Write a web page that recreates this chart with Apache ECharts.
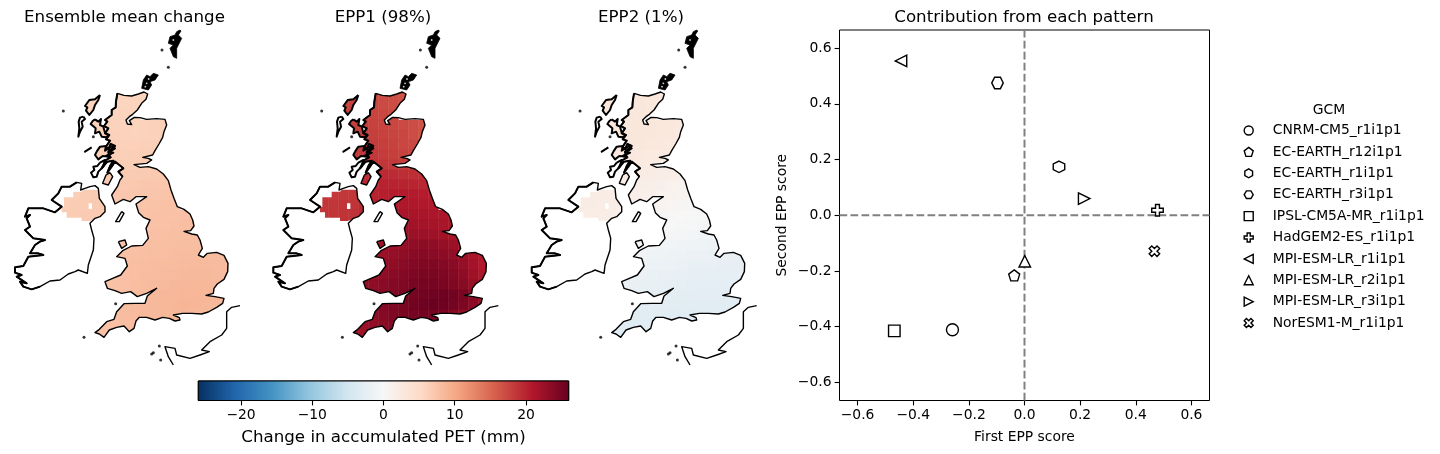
<!DOCTYPE html>
<html><head><meta charset="utf-8">
<style>html,body{margin:0;padding:0;background:#fff}#c{width:1440px;height:454px}</style>
<script src="https://cdn.jsdelivr.net/npm/echarts@6/dist/echarts.min.js"></script>
</head><body><div id="c"></div>
<script>
// ---- scatter data
const models = ["CNRM-CM5_r1i1p1","EC-EARTH_r12i1p1","EC-EARTH_r1i1p1","EC-EARTH_r3i1p1","IPSL-CM5A-MR_r1i1p1","HadGEM2-ES_r1i1p1","MPI-ESM-LR_r1i1p1","MPI-ESM-LR_r2i1p1","MPI-ESM-LR_r3i1p1","NorESM1-M_r1i1p1"];
const scoreX = [-0.259,-0.037,0.124,-0.097,-0.468,0.478,-0.444,0.001,0.2145,0.467];
const scoreY = [-0.411,-0.216,0.174,0.475,-0.415,0.018,0.554,-0.165,0.06,-0.129];
const scoreTicks = [-0.6,-0.4,-0.2,0,0.2,0.4,0.6];
const cbarTicks = [-20,-10,0,10,20];
const titles = ["Ensemble mean change","EPP1 (98%)","EPP2 (1%)"];
const rdBu = ["#053061","#2166ac","#4393c3","#92c5de","#d1e5f0","#f7f7f7","#fddbc7","#f4a582","#d6604d","#b2182b","#67001f"];

// ---- gridded fields: values per map row, mm
const rowStart = [2,2,2,2,3,3,3,3,4,4,0,0,0,2,8,5,5,5,5,4,5,5,5,4,3];
const fieldMean = [
[6.0,6.0,5.9,5.8,5.8,5.9,6.0],[6.0,6.0,6.0,5.9,5.8,5.9,6.1],[6.1,6.1,6.0,6.0,5.9,6.0],
[6.2,6.2,6.2,6.1,6.0,6.0,6.1,6.2,6.3],[6.3,6.3,6.2,6.1,6.0,6.1,6.2,6.3],[6.4,6.4,6.3,6.2,6.2,6.3,6.3,6.4],
[6.5,6.5,6.4,6.3,6.4,6.4,6.5],[6.6,6.6,6.5,6.5,6.5,6.6,6.7],[6.7,6.7,6.7,6.7,6.8,6.9,7.0],[6.8,6.8,6.9,7.0,7.1,7.1,7.2],
[6.5,6.5,6.6,6.7,6.9,7.0,7.1,7.2,7.3,7.3,7.4,7.5],[6.5,6.6,6.6,6.7,6.9,7.1,7.2,7.3,7.4,7.5,7.6,7.6],
[6.6,6.6,6.7,6.8,6.9,7.1,7.3,7.4,7.5,7.6,7.7,7.7,7.8,7.8],[6.8,6.9,7.1,7.3,7.4,7.5,7.6,7.7,7.7,7.8,7.9,7.9],
[7.7,7.8,7.8,7.9,7.9,8.0,8.0],[7.6,7.7,7.7,7.8,7.9,7.9,8.0,8.0,8.0,8.0],
[7.6,7.7,7.8,7.9,7.9,8.0,8.1,8.2,8.2,8.2,8.2,8.2],[7.7,7.8,7.9,8.0,8.1,8.2,8.2,8.3,8.4,8.4,8.3,8.3],
[7.7,7.8,7.9,8.1,8.2,8.3,8.4,8.5,8.5,8.5,8.4,8.3],[7.5,7.7,7.8,8.0,8.2,8.3,8.4,8.6,8.7,8.7,8.6,8.5,8.4],
[7.9,8.0,8.2,8.3,8.5,8.6,8.7,8.8,8.8,8.7,8.6,8.5],[7.9,8.0,8.2,8.4,8.5,8.6,8.8,8.9,8.8,8.7,8.5,8.4],
[7.9,8.1,8.3,8.4,8.5,8.6,8.7,8.7,8.6,8.5],[7.6,7.8,8.0,8.2],[7.5,7.6,7.8,8.0]];
const fieldEpp1 = [
[17.5,17.5,17.5,17.2,17.0,16.8,16.6],[17.8,17.8,17.6,17.4,17.2,17.0,16.8],[18,18,17.8,17.6,17.4,17.2],
[18,18,18,17.8,17.6,17.4,17.2,17,16.6],[18,18,18,17.8,17.6,17.4,17,16.6],[18.2,18.2,18.2,18,17.8,17.5,17.3,17],
[18.4,18.4,18.4,18.2,18,17.8,17.6],[18.8,18.8,18.8,18.6,18.4,18.2,18],[19.2,19.4,19.5,19.4,19.3,19.2,19.2],[19.6,19.8,20,20,20,19.9,19.8],
[18.4,18.4,18.5,18.6,19.5,20,20.3,20.5,20.6,20.6,20.5,20.4],[18.5,18.6,18.7,18.8,19.5,20.3,20.6,20.8,21,21,20.9,20.8],
[18.6,18.7,18.8,18.9,19.5,20.5,21,21.2,21.4,21.5,21.4,21.3,21.2,21],[19,19,20,21,21.3,21.6,21.8,21.9,21.8,21.6,21.4,21.2],
[22,22.4,22.4,22.2,21.9,21.6,21.3],[21.6,22,22.4,22.8,23.2,23.4,23.2,22.8,22.4,21.8],
[22,22.4,22.8,23.2,23.6,23.8,23.6,23.4,23,22.4,21.4,20.8],[22.4,22.8,23.2,23.6,24,24.2,24.2,24,23.6,22.8,21.8,20.8],
[22.8,23.2,23.6,24,24.4,24.6,24.6,24.4,24,23.3,22.2,21.2],[23,23.2,23.6,24,24.3,24.7,24.9,24.9,24.7,24.3,23.7,22.8,21.8],
[23.7,23.9,24.3,24.7,25,25.2,25.4,25.5,25.2,24.7,23.7,22.7],[23.7,24,24.4,24.8,25.2,25.5,25.7,25.5,25.1,24.5,23.4,22.4],
[23.5,23.9,24.3,24.7,24.9,25.1,24.9,24.5,23.8,23],[22.4,23,23.6,24],[21.6,22,22.6,23.2]];
const fieldEpp2 = [
[3,3,3,2.9,2.9,2.8,2.7],[3,3,3,3,2.9,2.8,2.7],[3,3,3,3,2.9,2.8],
[3,3,3,3,3,2.9,2.8,2.7,2.6],[3,3,3,3,2.9,2.8,2.7,2.6],[2.9,2.9,2.9,2.9,2.8,2.7,2.6,2.5],
[2.7,2.7,2.7,2.6,2.5,2.4,2.3],[2.4,2.4,2.4,2.3,2.2,2.1,2],[2.1,2.1,2.1,2,1.9,1.7,1.5],[1.9,1.8,1.7,1.6,1.4,1.2,1],
[2,2,2,1.9,1.7,1.6,1.5,1.4,1.2,1,0.8,0.6],[2,2,1.9,1.8,1.5,1.3,1.2,1,0.8,0.6,0.4,0.2],
[1.9,1.9,1.8,1.7,1.2,1,0.8,0.6,0.4,0.2,0,-0.1,-0.2,-0.3],[1.7,1.6,0.9,0.6,0.4,0.2,0,-0.1,-0.2,-0.3,-0.4,-0.5],
[-0.3,-0.4,-0.6,-0.7,-0.8,-0.9,-1],[-0.3,-0.5,-0.7,-0.9,-1,-1.1,-1.2,-1.3,-1.4,-1.5],
[-0.8,-1,-1.2,-1.3,-1.4,-1.5,-1.6,-1.7,-1.8,-1.9,-2,-2],[-1.2,-1.4,-1.5,-1.6,-1.7,-1.8,-1.9,-2,-2.1,-2.2,-2.2,-2.2],
[-1.5,-1.7,-1.8,-1.9,-2,-2.1,-2.2,-2.3,-2.4,-2.4,-2.4,-2.4],[-1.8,-1.9,-2,-2.1,-2.2,-2.3,-2.4,-2.5,-2.6,-2.6,-2.6,-2.6,-2.6],
[-2.3,-2.4,-2.5,-2.5,-2.6,-2.7,-2.8,-2.8,-2.8,-2.8,-2.8,-2.8],[-2.7,-2.8,-2.8,-2.8,-2.9,-2.9,-3,-3,-3,-2.9,-2.9,-2.8],
[-3,-3,-3,-3,-3.1,-3.1,-3.1,-3.1,-3,-3],[-3,-3.1,-3.1,-3.1],[-3,-3.1,-3.1,-3.1]];

// ---- coastlines, map units
const coastGB = [[352,220],[372,226],[395,228],[415,222],[432,216],[443,222],[438,238],[425,250],[412,270],[398,283],[388,290],[378,300],[382,312],[395,314],[388,302],[403,292],[420,293],[440,298],[470,296],[495,298],[500,315],[492,335],[488,352],[477,372],[465,392],[458,405],[428,412],[445,415],[455,420],[440,430],[402,434],[420,442],[445,440],[470,447],[490,462],[505,482],[513,510],[522,535],[532,560],[552,568],[570,582],[578,600],[582,618],[572,632],[552,634],[575,642],[592,645],[600,660],[607,685],[595,705],[610,712],[622,700],[650,697],[672,706],[684,730],[683,755],[672,778],[652,792],[642,805],[640,820],[618,826],[645,830],[672,835],[668,850],[650,862],[625,876],[605,882],[575,880],[548,880],[520,885],[538,893],[540,900],[525,903],[508,895],[488,892],[465,900],[440,892],[418,892],[408,903],[402,925],[388,935],[372,918],[350,922],[328,930],[312,952],[298,942],[285,938],[298,928],[320,905],[342,898],[350,875],[372,851],[405,850],[435,850],[442,828],[470,805],[440,820],[412,830],[392,815],[365,820],[345,812],[322,805],[315,785],[338,775],[362,765],[382,738],[375,715],[350,710],[368,692],[395,678],[428,676],[445,655],[438,625],[450,600],[430,592],[416,578],[408,552],[440,530],[408,530],[390,545],[370,538],[345,552],[335,525],[352,500],[360,480],[368,470],[355,455],[370,445],[358,435],[345,425],[335,440],[322,458],[330,438],[340,422],[322,425],[305,445],[318,420],[332,412],[318,408],[340,398],[325,395],[345,378],[332,372],[325,388],[318,380],[330,362],[318,358],[328,345],[315,340],[325,325],[312,318],[322,305],[315,300],[335,285],[335,270],[347,262],[348,245],[352,220]];
const coastIreland = [[230,487],[245,490],[242,510],[255,505],[270,500],[285,497],[295,505],[298,535],[315,560],[315,575],[300,590],[285,595],[270,610],[275,630],[282,655],[280,690],[275,705],[265,735],[262,760],[235,750],[225,755],[205,762],[180,780],[150,783],[120,800],[95,808],[70,800],[60,785],[80,790],[50,770],[65,765],[45,758],[45,742],[70,738],[85,710],[130,705],[115,700],[90,700],[105,675],[120,665],[135,660],[100,655],[75,630],[90,620],[80,595],[90,585],[75,590],[85,565],[130,565],[165,577],[185,560],[155,540],[175,520],[185,500],[210,500],[230,487]];
const fillNI = [[192,532],[192,560],[185,560],[185,577],[200,577],[200,593],[245,593],[245,603],[268,603],[300,590],[315,575],[315,560],[298,535],[295,505],[285,497],[255,505],[245,515],[220,515],[220,532]];
const gapCell = [[266,550],[276,550],[276,567],[266,567]];
const coastLewis = [[300,225],[295,240],[285,255],[280,270],[268,285],[258,272],[262,262],[255,258],[268,240],[285,238],[300,225]];
const coastUist = [[250,290],[255,297],[245,305],[248,320],[240,335],[235,350],[230,345],[238,325],[236,305],[240,293],[250,290]];
const coastSkye = [[285,298],[295,305],[303,297],[300,315],[310,320],[315,338],[325,345],[318,352],[305,350],[298,335],[285,340],[287,325],[272,312],[278,303],[285,298]];
const coastMull = [[290,395],[300,380],[318,378],[315,392],[338,378],[345,385],[325,398],[330,410],[308,408],[295,418],[285,405],[290,395]];
const coastJura = [[300,428],[315,420],[310,440],[295,455],[290,470],[280,472],[273,458],[283,450],[280,440],[292,438],[300,428]];
const coastKintyre = [[330,458],[338,470],[325,495],[308,490],[318,465],[330,458]];
const coastMan = [[365,575],[372,580],[358,605],[347,605],[365,575]];
const coastAnglesey = [[355,665],[375,660],[380,675],[365,685],[355,665]];
const coastTiree = [[275,382],[255,395],[275,382]];
const coastFrance = [[720,857],[695,862],[680,875],[680,925],[665,945],[630,965],[605,990],[628,995],[600,1005],[570,1015],[530,1005],[525,985],[495,980],[505,1010],[520,1035]];
const blackShetland = [[540,30],[530,35],[525,45],[510,50],[505,70],[520,75],[510,85],[520,110],[530,115],[530,85],[545,55],[535,45],[543,33]];
const blackOrkney = [[475,165],[460,160],[450,170],[440,165],[430,180],[425,205],[445,210],[455,195],[450,185],[465,180]];
const islets = [[486,90],[505,142],[190,273],[252,952],[347,851],[460,998],[455,1002],[478,978],[482,1020],[280,350]];
const flecks = [[440,190],[446,177],[520,60],[436,200]];
const landHoles = [coastGB,fillNI,coastLewis,coastSkye,coastMull,coastKintyre,coastAnglesey];
const outlines = [coastGB,coastIreland,coastKintyre,coastMan,coastAnglesey,coastFrance];
const heavyOutlines = [coastUist,coastTiree,coastLewis,coastSkye,coastMull,coastJura,
  coastGB.slice(coastGB.findIndex(q=>q[0]===368&&q[1]===470)),
  coastIreland.slice(coastIreland.findIndex(q=>q[0]===120&&q[1]===800))];
const blackIslands = [blackShetland,blackOrkney];

// ---- layout / style
const panelLefts = [0,258.35,516.7];
const fields = [fieldMean,fieldEpp1,fieldEpp2];
const markerStyle = {
 "CNRM-CM5_r1i1p1":["circle",12],
 "EC-EARTH_r12i1p1":["path://M50 0L100 38L81 100H19L0 38Z",11],
 "EC-EARTH_r1i1p1":["path://M50 0L93 25V75L50 100L7 75V25Z",11.5],
 "EC-EARTH_r3i1p1":["path://M0 50L25 7H75L100 50L75 93H25Z",11.5],
 "IPSL-CM5A-MR_r1i1p1":["rect",11.5],
 "HadGEM2-ES_r1i1p1":["path://M33 0H67V33H100V67H67V100H33V67H0V33H33Z",11.5],
 "MPI-ESM-LR_r1i1p1":["path://M100 0V100L0 50Z",11.5],
 "MPI-ESM-LR_r2i1p1":["path://M50 0L100 100H0Z",11.5],
 "MPI-ESM-LR_r3i1p1":["path://M0 0L100 50L0 100Z",11.5],
 "NorESM1-M_r1i1p1":["path://M25 0L50 25L75 0L100 25L75 50L100 75L75 100L50 75L25 100L0 75L25 50L0 25Z",10.5]
};
const FONT = '"DejaVu Sans"';
const minus = v => String(v).replace('-','\u2212');

const grid=[], xAxis=[], yAxis=[], series=[];
panelLefts.forEach((left,p)=>{
  grid.push({left,top:20,width:260,height:350,show:false});
  xAxis.push({type:'value',gridIndex:p,min:0,max:780,show:false});
  yAxis.push({type:'value',gridIndex:p,min:0,max:1050,inverse:true,show:false});
  const cells=[];
  fields[p].forEach((row,r)=>row.forEach((v,i)=>cells.push([180+30*(rowStart[r]+i),210+30*r,v])));
  series.push({type:'custom',name:'field'+p,coordinateSystem:'cartesian2d',xAxisIndex:p,yAxisIndex:p,z:1,silent:true,clip:false,
    encode:{x:0,y:1},data:cells,
    renderItem:(ctx,api)=>{
      const a=api.coord([api.value(0),api.value(1)]), b=api.coord([api.value(0)+30,api.value(1)+30]);
      const c=api.visual('color');
      return {type:'rect',shape:{x:a[0],y:a[1],width:b[0]-a[0],height:b[1]-a[1]},style:{fill:c,stroke:c,lineWidth:0.5}};
    }});
  // white sea over the field, so it only shows on land
  series.push({type:'custom',name:'sea'+p,coordinateSystem:'cartesian2d',xAxisIndex:p,yAxisIndex:p,z:2,silent:true,clip:false,
    encode:{x:0,y:1},data:[[175,205]],
    renderItem:(ctx,api)=>{
      const tl=api.coord([175,205]), br=api.coord([695,965]);
      const ringD=(ring,cw)=>{
        let pts=ring.map(q=>api.coord(q)), area=0;
        pts.forEach((q,i)=>{const n=pts[(i+1)%pts.length];area+=q[0]*n[1]-n[0]*q[1];});
        if((area>0)!==cw) pts=pts.slice().reverse();
        return 'M'+pts.map(q=>q[0].toFixed(2)+' '+q[1].toFixed(2)).join('L')+'Z';
      };
      const d='M'+tl[0]+' '+tl[1]+'L'+br[0]+' '+tl[1]+'L'+br[0]+' '+br[1]+'L'+tl[0]+' '+br[1]+'Z'
        +landHoles.map(h=>ringD(h,false)).join('')+ringD(gapCell,true);
      return {type:'path',shape:{pathData:d,x:tl[0],y:tl[1],width:br[0]-tl[0],height:br[1]-tl[1],layout:'cover'},style:{fill:'#fff',stroke:null}};
    }});
  outlines.forEach((ring,k)=>series.push({type:'line',name:'coast'+p+'_'+k,xAxisIndex:p,yAxisIndex:p,z:3,silent:true,clip:false,
    data:ring,symbol:'none',lineStyle:{color:'#000',width:1.4,join:'round'}}));
  heavyOutlines.forEach((ring,k)=>series.push({type:'line',name:'heavy'+p+'_'+k,xAxisIndex:p,yAxisIndex:p,z:3,silent:true,clip:false,
    data:ring,symbol:'none',lineStyle:{color:'#000',width:2,join:'round'}}));
  series.push({type:'custom',name:'black'+p,coordinateSystem:'cartesian2d',xAxisIndex:p,yAxisIndex:p,z:3,silent:true,clip:false,
    encode:{x:0,y:1},data:blackIslands.map((r,i)=>[r[0][0],r[0][1],i]),
    renderItem:(ctx,api)=>({type:'polygon',shape:{points:blackIslands[api.value(2)].map(q=>api.coord(q))},style:{fill:'#000',stroke:'#000',lineWidth:0.8}})});
  series.push({type:'scatter',name:'islets'+p,xAxisIndex:p,yAxisIndex:p,z:3,silent:true,clip:false,data:islets,symbolSize:3,itemStyle:{color:'#000'}});
  series.push({type:'scatter',name:'flecks'+p,xAxisIndex:p,yAxisIndex:p,z:4,silent:true,clip:false,data:flecks,symbolSize:1.8,itemStyle:{color:'#fff'}});
});

// colour bar
grid.push({left:198.3,top:381,width:370.4,height:19.5,show:true,borderColor:'#000',borderWidth:1,backgroundColor:'transparent'});
xAxis.push({type:'value',gridIndex:3,min:-26,max:26,
  name:'Change in accumulated PET (mm)',nameLocation:'middle',nameGap:29,nameTextStyle:{fontFamily:FONT,fontSize:16.67,color:'#000'},
  axisLine:{show:false,onZero:false},splitLine:{show:false},
  axisTick:{show:true,length:4.9,customValues:cbarTicks,lineStyle:{color:'#000',width:1.1}},
  axisLabel:{customValues:cbarTicks,formatter:minus,color:'#000',fontFamily:FONT,fontSize:13.89,margin:8}});
yAxis.push({type:'value',gridIndex:3,min:0,max:1,show:false});
series.push({type:'custom',name:'cbar',coordinateSystem:'cartesian2d',xAxisIndex:3,yAxisIndex:3,silent:true,z:1,encode:{x:0,y:1},data:[[-26,0]],
  renderItem:(ctx,api)=>{
    const a=api.coord([-26,1]), b=api.coord([26,0]);
    return {type:'rect',shape:{x:a[0],y:a[1],width:b[0]-a[0],height:b[1]-a[1]},
      style:{fill:new echarts.graphic.LinearGradient(0,0,1,0,rdBu.map((c,i)=>({offset:i/(rdBu.length-1),color:c}))),stroke:'#000',lineWidth:1}};
  }});

// scatter panel
grid.push({left:839.5,top:30,width:370,height:370.5,show:true,borderColor:'#000',borderWidth:1,backgroundColor:'transparent'});
const axisCommon={type:'value',gridIndex:4,min:-0.665,max:0.665,nameLocation:'middle',
  nameTextStyle:{fontFamily:FONT,fontSize:13.89,color:'#000'},
  axisLine:{show:false,onZero:false},splitLine:{show:false},
  axisTick:{show:true,length:4.9,customValues:scoreTicks,lineStyle:{color:'#000',width:1.1}},
  axisLabel:{customValues:scoreTicks,formatter:v=>minus(Number(v).toFixed(1)),color:'#000',fontFamily:FONT,fontSize:13.89,margin:8}};
xAxis.push(Object.assign({},axisCommon,{name:'First EPP score',nameGap:30}));
yAxis.push(Object.assign({},axisCommon,{name:'Second EPP score',nameGap:50}));
const refH=[[-0.665,0],[0.665,0]], refV=[[0,-0.665],[0,0.665]];
[refH,refV].forEach((d,i)=>series.push({type:'line',name:'ref'+i,xAxisIndex:4,yAxisIndex:4,silent:true,z:1,data:d,symbol:'none',
  lineStyle:{color:'#808080',width:2,type:[7.7,3.3]}}));
models.forEach((m,i)=>series.push({type:'scatter',name:m,xAxisIndex:4,yAxisIndex:4,z:5,silent:true,
  data:[[scoreX[i],scoreY[i]]],symbol:markerStyle[m][0],symbolSize:markerStyle[m][1],
  itemStyle:{color:'#fff',borderColor:'#000',borderWidth:1.4,opacity:1}}));

const titleTxt=(text,x,top,size)=>({text,left:x,top,textAlign:'center',textStyle:{fontFamily:FONT,fontWeight:'normal',fontSize:size,color:'#000'},padding:0});
const option={
  animation:false,backgroundColor:'#fff',
  title:[titleTxt(titles[0],124.5,9,16.67),titleTxt(titles[1],383,9,16.67),titleTxt(titles[2],641,9,16.67),
         titleTxt("Contribution from each pattern",1024,9,16.67),titleTxt("GCM",1329,103,13.89)],
  grid,xAxis,yAxis,
  visualMap:{show:false,type:'continuous',min:-26,max:26,dimension:2,seriesIndex:[0,series.findIndex(s=>s.name==='field1'),series.findIndex(s=>s.name==='field2')],inRange:{color:rdBu}},
  legend:{show:true,orient:'vertical',left:1243.5,top:123.5,data:models,selectedMode:false,itemWidth:9,itemHeight:9,itemGap:7.4,padding:0,
    textStyle:{fontFamily:FONT,fontSize:13.89,color:'#000',padding:[0,0,0,14.5],lineHeight:14},itemStyle:{borderWidth:1.4}},
  series
};
const chart=echarts.init(document.getElementById('c'),null,{renderer:'canvas',width:1440,height:454});
chart.setOption(option);
</script></body></html>
